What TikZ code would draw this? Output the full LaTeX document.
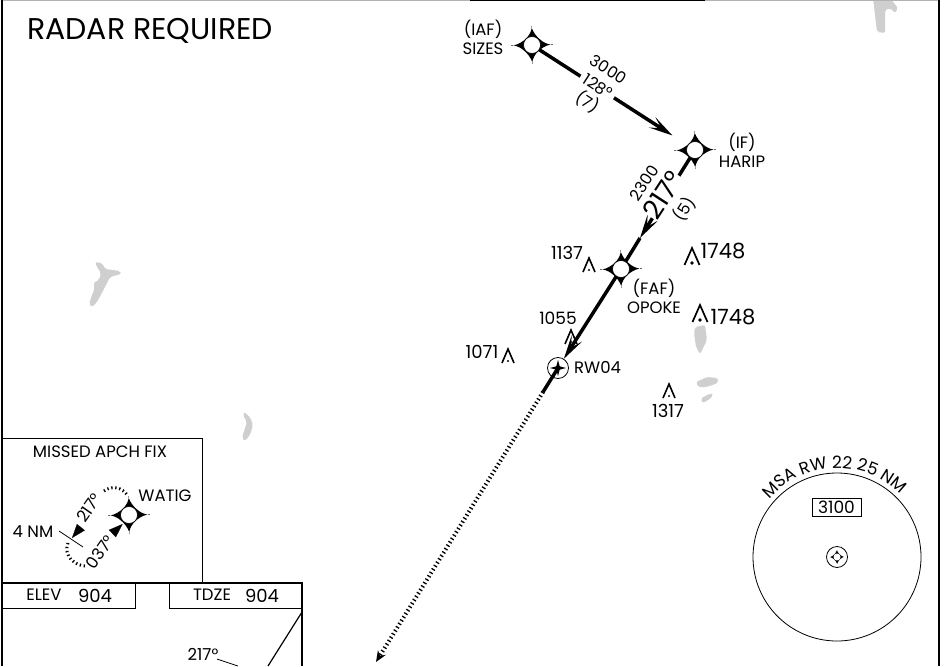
\documentclass[tikz,border=0pt]{standalone}
\usepackage{fontspec}
\setmainfont{Poppins}
\usetikzlibrary{arrows.meta,decorations.text}
\definecolor{landgrey}{HTML}{CFCFCF}
\newcommand{\sz}[2][1.15]{\fontsize{#2}{#1\dimexpr #2pt\relax}\selectfont}
\newcommand{\fixstar}[2]{
    \fill (#1) ++(21,0) .. controls ++(-17,-1.5) and ++(-2.5,-1.5) .. ++(-21,-19)
        .. controls ++(-1.5,17) and ++(-1.5,2.5) .. ++(-21,19)
        .. controls ++(17,1.5) and ++(2.5,1.5) .. ++(21,19)
        .. controls ++(1.5,-17) and ++(1.5,-2.5) .. cycle;
    \node[fixdot] (#2) at (#1) {};
}
\tikzset{
    fixdot/.style={circle,draw,fill=white,line width=0.6,minimum size=17pt,inner sep=0pt},
    track/.style={line width=3.5},
    barb/.style={-{Stealth[length=24pt,width=12pt,inset=11pt]}},
    gaplabel/.style={fill=white,inner sep=0pt,align=center,font=\sz[1.2]{16}},
    chart/.style={font=\sz{16.5},align=center,inner sep=0pt},
    holddots/.style={line width=3,dash pattern=on 1.3pt off 2.7pt},
    land/.style={fill=landgrey,rounded corners=2pt},
    obst/.pic={
        \draw[line width=1.6] (-6,7) -- (0,-7) -- (6,7);
        \fill (0,5) circle (1.2);
    },
    bigobst/.pic={
        \draw[line width=1.7] (-7.5,8) -- (0,-9) -- (7.5,8);
        \fill (0,6) circle (1.8);
    }
}
\begin{document}
\begin{tikzpicture}[x=1pt,y=-1pt]
    \useasboundingbox (0,0) rectangle (949,666);

    % land
    \fill[land] (95,262) -- (102,263) -- (105,269) -- (120,271) -- (121,274) -- (110,277) -- (105,287) -- (97,302) -- (92,307) -- (89,304) -- (92,295) -- (95,288) -- (93,283) -- (99,280) -- (101,273) -- (97,267) -- cycle;
    \fill[land] (244,412) -- (250,417) -- (253,425) -- (250,435) -- (245,441) -- (242,438) -- (245,428) -- (247,422) -- (243,415) -- cycle;
    \fill[land] (695,327) -- (705,325) -- (707,340) -- (700,354) -- (696,347) -- (694,333) -- cycle;
    \fill[land] (696,382) -- (707,377) -- (718,378) -- (718,383) -- (707,387) -- (698,387) -- cycle;
    \fill[land] (701,398) -- (712,393) -- (713,396) -- (707,401) -- (702,403) -- cycle;
    \fill[land] (873,-2) -- (890,-2) -- (898,8) -- (895,13) -- (890,8) -- (885,10) -- (885,33) -- (877,32) -- cycle;

    % frame
    \draw[line width=2,black!30] (2,0) -- (470,0);
    \draw[line width=3] (470,0) -- (705,0);
    \draw[line width=2,black!30] (705,0) -- (939,0);
    \draw[line width=2] (2,0) -- (2,666);
    \draw[line width=2] (939,0) -- (939,666);

    \node[chart,font=\sz{30},anchor=west] (title) at (27,31) {RADAR REQUIRED};

    % fixes
    \fixstar{532,45}{sizes}
    \fixstar{695,150}{harip}
    \fixstar{621,269}{opoke}
    \node[chart] (sizeslab) at (483,37) {(IAF)\\SIZES};
    \node[chart] (hariplab) at (742,150) {(IF)\\HARIP};
    \node[chart] (opokelab) at (654,296) {(FAF)\\OPOKE};

    % tracks
    \draw[track,barb,shorten >=18pt] (sizes) -- node[gaplabel,pos=0.39,rotate=-33] (leg1) {3000\\128°\\(7)} (harip);
    \coordinate (hariparr) at (640,238);
    \draw[track,barb] (harip) -- node[gaplabel,pos=0.49,rotate=57] (leg2) {2300\\[5pt]{\sz{27}217°}\\[3pt](5)} (hariparr);
    \draw[track] (hariparr) -- (opoke);

    \node[circle,draw,line width=0.8,minimum size=21pt,inner sep=0pt] (rw) at (558,368) {};
    \node[circle,fill,inner sep=0pt,minimum size=5pt] (rwdot) at (rw) {};
    \foreach \a in {0,90,180,270}
        \fill[rotate around={\a:(rw)}] (558,368) ++(8,0) -- ++(-6,-1.6) -- ++(0,3.2) -- cycle;
    \node[chart,anchor=west] (rwlab) at (574,367) {RW04};
    \draw[track,barb] (opoke) -- (rw);
    \coordinate (rwend) at (543,392);
    \coordinate (misstip) at (376,662);
    \draw[track] (rw.center) -- (rwend);
    \draw[holddots,line width=4,-{Stealth[length=11pt,width=9pt]}] (rwend) -- (misstip);

    % obstacles
    \pic at (589,265) {obst};
    \pic at (571,337) {obst};
    \pic at (508,356) {obst};
    \pic at (669,391) {obst};
    \pic at (692,257) {bigobst};
    \pic at (700,314) {bigobst};
    \node[chart,font=\sz{18}] (ob1137) at (567,253) {1137};
    \node[chart,font=\sz{17}] (ob1055) at (558,318) {1055};
    \node[chart,font=\sz{18}] (ob1071) at (482,352) {1071};
    \node[chart,font=\sz{18}] (ob1317) at (668,411) {1317};
    \node[chart,font=\sz{21}] (ob1748a) at (723,251) {1748};
    \node[chart,font=\sz{21}] (ob1748b) at (733,317) {1748};

    % msa
    \node[circle,draw,line width=0.8,minimum size=168pt,inner sep=0pt] (msa) at (837,557) {};
    \node[draw,line width=0.8,minimum width=49pt,minimum height=18pt,inner sep=0pt,font=\sz{17}] (msaalt) at (836.5,507) {3100};
    \node[circle,draw,line width=0.8,minimum size=21pt,inner sep=0pt] (msafix) at (837,557) {};
    \fill (837,557) ++(7,0) .. controls ++(-5,-1) and ++(-1,-1) .. ++(-7,-7)
        .. controls ++(-1,5) and ++(-1,1) .. ++(-7,7)
        .. controls ++(5,1) and ++(1,1) .. ++(7,7)
        .. controls ++(1,-5) and ++(1,-1) .. cycle;
    \node[circle,fill=white,inner sep=0pt,minimum size=7pt] (msadot) at (msafix) {};
    \path[decorate,decoration={text along path,text align=center,
        text={|\sz{17}|MSA RW 22 25 NM}}] (837,557) ++(-140:89) arc[start angle=-140,end angle=-44,radius=89];

    % missed approach inset
    \draw[line width=1] (2,438) -- (202,438) -- (202,583);
    \node[chart] (misslab) at (100,452) {MISSED APCH FIX};
    \fixstar{129,515}{watig}
    \node[chart] (watiglab) at (165,496) {WATIG};
    \node[chart] (nmlab) at (33,532) {4 NM};
    \coordinate (tick1) at (59,531);
    \coordinate (tick2) at (83,547);
    \draw[line width=0.8] (tick1) -- (tick2);
    \coordinate (hold1) at (104,491);
    \coordinate (hold2) at (128,496);
    \coordinate (hold3) at (68,543);
    \coordinate (hold4) at (86,566);
    \draw[holddots] (hold1) .. controls (112,485) and (122,487) .. (hold2);
    \draw[holddots] (hold3) .. controls (63,556) and (75,566) .. (hold4);
    \coordinate (arr1a) at (81,527);
    \coordinate (arr1b) at (72,538);
    \coordinate (arr2a) at (113,533);
    \coordinate (arr2b) at (122.6,524);
    \draw[line width=0.2,-{Triangle[length=14pt,width=10pt]}] (arr1a) -- (arr1b);
    \draw[line width=0.2,-{Triangle[length=14pt,width=10pt]}] (arr2a) -- (arr2b);
    \node[chart,rotate=55] (hold217) at (89,508) {217°};
    \node[chart,rotate=55] (hold037) at (100,552) {037°};

    % minimums boxes
    \draw[line width=2] (2,583) -- (302,583) -- (302,666);
    \draw[line width=1] (2,608) -- (135,608) -- (135,583);
    \draw[line width=1] (169,583) -- (169,608) -- (302,608);
    \node[chart] (elevlab) at (44,595) {ELEV};
    \node[chart,font=\sz{18}] (elevval) at (95,596) {904};
    \node[chart] (tdzelab) at (212,595) {TDZE};
    \node[chart,font=\sz{18}] (tdzeval) at (262,596) {904};

    \coordinate (rwy1) at (302,612);
    \coordinate (rwy2) at (268,666);
    \draw[line width=1.2] (rwy1) -- (rwy2);
    \node[chart] (rwyhdg) at (203,654) {217°};
    \coordinate (lead1) at (217,659);
    \coordinate (lead2) at (238,666);
    \draw[line width=0.8] (lead1) -- (lead2);
\end{tikzpicture}
\end{document}
